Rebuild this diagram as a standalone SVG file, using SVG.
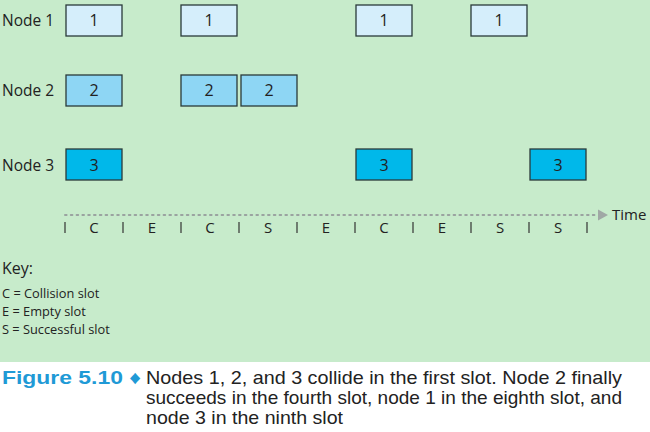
<svg xmlns="http://www.w3.org/2000/svg" width="650" height="432" viewBox="0 0 650 432">
<style>
.lbl{font-family:"Open Sans","Liberation Sans",sans-serif;font-size:15.5px;fill:#222}
.n{font-family:"Open Sans","Liberation Sans",sans-serif;font-size:16px;fill:#222;text-anchor:middle}
.b1{fill:#d5eefb;stroke:#2a3a3a;stroke-width:1.3}
.b2{fill:#8ed6f4;stroke:#2a3a3a;stroke-width:1.3}
.b3{fill:#00b8ea;stroke:#2a3a3a;stroke-width:1.3}
.tick{stroke:#333;stroke-width:1.2}
.sl{font-family:"Open Sans","Liberation Sans",sans-serif;font-size:15px;fill:#222;text-anchor:middle}
.key{font-family:"Open Sans","Liberation Sans",sans-serif;font-size:12.8px;fill:#222}
.cap{font-family:"Liberation Sans",sans-serif;font-size:19px;fill:#222}
</style>
<rect x="0" y="0" width="650" height="362" fill="#c7ebcb"/>
<rect x="0" y="362" width="650" height="70" fill="#ffffff"/>

<g id="node1">
<text class="lbl" x="2" y="26">Node 1</text>
<rect class="b1" x="66" y="5" width="56" height="31"/><text class="n" x="94" y="26">1</text>
<rect class="b1" x="181" y="5" width="56" height="31"/><text class="n" x="209" y="26">1</text>
<rect class="b1" x="356" y="5" width="56" height="31"/><text class="n" x="384" y="26">1</text>
<rect class="b1" x="471" y="5" width="56" height="31"/><text class="n" x="499" y="26">1</text>
</g>
<g id="node2">
<text class="lbl" x="2" y="96">Node 2</text>
<rect class="b2" x="66" y="75" width="56" height="31"/><text class="n" x="94" y="96">2</text>
<rect class="b2" x="181" y="75" width="56" height="31"/><text class="n" x="209" y="96">2</text>
<rect class="b2" x="241" y="75" width="56" height="31"/><text class="n" x="269" y="96">2</text>
</g>
<g id="node3">
<text class="lbl" x="2" y="171">Node 3</text>
<rect class="b3" x="66" y="149" width="56" height="31"/><text class="n" x="94" y="171">3</text>
<rect class="b3" x="356" y="149" width="56" height="31"/><text class="n" x="384" y="171">3</text>
<rect class="b3" x="530" y="149" width="56" height="31"/><text class="n" x="558" y="171">3</text>
</g>

<g id="connectors">
<line x1="65" y1="215" x2="597" y2="215" stroke="#9aa3a0" stroke-width="2" stroke-dasharray="1.6 4.2" stroke-linecap="round"/>
<polygon points="598,209.5 608,215 598,220.5" fill="#a0a8a5"/>
</g>
<text class="lbl" x="612" y="220" style="font-size:15px">Time</text>

<g id="timeline">
<line class="tick" x1="65" y1="222" x2="65" y2="233"/>
<line class="tick" x1="123" y1="222" x2="123" y2="233"/>
<line class="tick" x1="181" y1="222" x2="181" y2="233"/>
<line class="tick" x1="239" y1="222" x2="239" y2="233"/>
<line class="tick" x1="297" y1="222" x2="297" y2="233"/>
<line class="tick" x1="355" y1="222" x2="355" y2="233"/>
<line class="tick" x1="413" y1="222" x2="413" y2="233"/>
<line class="tick" x1="471" y1="222" x2="471" y2="233"/>
<line class="tick" x1="529" y1="222" x2="529" y2="233"/>
<line class="tick" x1="587" y1="222" x2="587" y2="233"/>
<text class="sl" x="94" y="233">C</text>
<text class="sl" x="152" y="233">E</text>
<text class="sl" x="210" y="233">C</text>
<text class="sl" x="268" y="233">S</text>
<text class="sl" x="326" y="233">E</text>
<text class="sl" x="384" y="233">C</text>
<text class="sl" x="442" y="233">E</text>
<text class="sl" x="500" y="233">S</text>
<text class="sl" x="558" y="233">S</text>
</g>

<g id="key">
<text class="lbl" x="2" y="274" style="font-size:16px">Key:</text>
<text class="key" x="2" y="298">C = Collision slot</text>
<text class="key" x="2" y="316">E = Empty slot</text>
<text class="key" x="2" y="334">S = Successful slot</text>
</g>

<g id="caption">
<text x="2" y="384" style="font-family:'Liberation Sans',sans-serif;font-size:19px;font-weight:bold;fill:#1f9ad6" textLength="139" lengthAdjust="spacingAndGlyphs">Figure 5.10 ♦</text>
<text class="cap" x="146" y="384" textLength="476" lengthAdjust="spacingAndGlyphs">Nodes 1, 2, and 3 collide in the first slot. Node 2 finally</text>
<text class="cap" x="146" y="404" textLength="476" lengthAdjust="spacingAndGlyphs">succeeds in the fourth slot, node 1 in the eighth slot, and</text>
<text class="cap" x="146" y="424" textLength="197" lengthAdjust="spacingAndGlyphs">node 3 in the ninth slot</text>
</g>
</svg>
